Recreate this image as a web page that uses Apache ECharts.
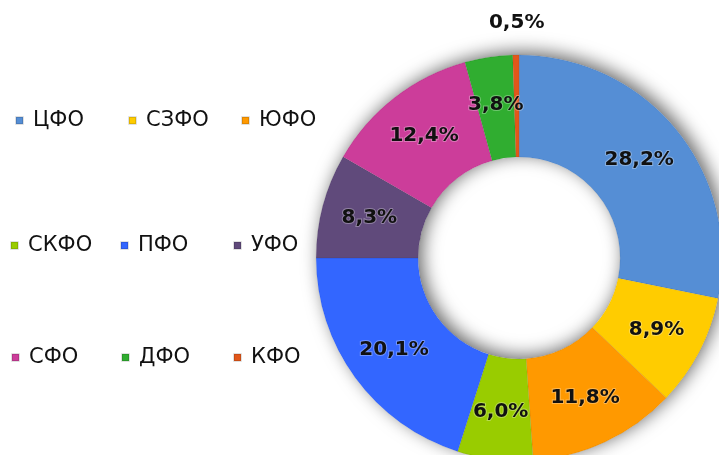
<!DOCTYPE html>
<html>
<head>
<meta charset="utf-8">
<script src="https://cdn.jsdelivr.net/npm/echarts@6/dist/echarts.min.js"></script>
<style>
    html, body { margin: 0; padding: 0; background: #fff; }
    #chart { width: 719px; height: 455px; }
</style>
</head>
<body>
<div id="chart"></div>
<script>
    // федеральные округа, доли в %
    var districts = ['ЦФО', 'СЗФО', 'ЮФО', 'СКФО', 'ПФО', 'УФО', 'СФО', 'ДФО', 'КФО'];
    var shares = [28.2, 8.9, 11.8, 6.0, 20.1, 8.3, 12.4, 3.8, 0.5];
    var colors = ['#558ed5', '#ffcc00', '#ff9900', '#99cc00', '#3366ff', '#604a7b', '#cc3d9a', '#30ad30', '#e2571a'];

    // позиции легенды (левый край значка, центр строки)
    var legendPos = [
        [15, 121], [128, 121], [241, 121],
        [10, 246], [120, 246], [233, 246],
        [11, 358], [121, 358], [233, 358]
    ];

    var chart = echarts.init(document.getElementById('chart'));

    var pieData = districts.map(function (name, i) {
        return { name: name, value: shares[i], itemStyle: { color: colors[i] } };
    });

    var legends = districts.map(function (name, i) {
        return {
            data: [name],
            left: legendPos[i][0],
            top: legendPos[i][1] - 11,
            padding: 0,
            icon: 'rect',
            itemWidth: 7,
            itemHeight: 7,
            selectedMode: false,
            textStyle: {
                fontFamily: 'DejaVu Sans',
                fontSize: 21,
                color: '#111',
                padding: [0, 0, 0, 5]
            }
        };
    });

    var options = {
        backgroundColor: '#fff',
        animation: false,
        color: colors,
        legend: legends,
        series: [
            {
                // подложка для тени
                type: 'pie',
                silent: true,
                center: ['72.2%', '56.7%'],
                radius: [101, 203],
                label: { show: false },
                labelLine: { show: false },
                itemStyle: {
                    color: '#fff',
                    shadowBlur: 18,
                    shadowColor: 'rgba(0,0,0,0.6)',
                    shadowOffsetX: 4,
                    shadowOffsetY: -3
                },
                data: [{ name: '', value: 1 }]
            },
            {
                type: 'pie',
                center: ['72.2%', '56.7%'],
                radius: [101, 203],
                startAngle: 90,
                clockwise: true,
                avoidLabelOverlap: false,
                itemStyle: {
                    borderColor: 'rgba(0,0,0,0.12)',
                    borderWidth: 0.6
                },
                label: {
                    show: true,
                    position: 'inside',
                    fontFamily: 'DejaVu Sans',
                    fontWeight: 'bold',
                    fontSize: 20,
                    color: '#111',
                    textBorderColor: 'rgba(255,255,255,0.3)',
                    textBorderWidth: 2,
                    formatter: function (p) {
                        return p.value.toFixed(1).replace('.', ',') + '%';
                    }
                },
                labelLine: { show: false },
                labelLayout: function (params) {
                    // последняя подпись вынесена над кольцом
                    if (params.dataIndex === 8) {
                        return { dy: -80 };
                    }
                    return {};
                },
                data: pieData
            }
        ]
    };

    chart.setOption(options);
</script>
</body>
</html>
